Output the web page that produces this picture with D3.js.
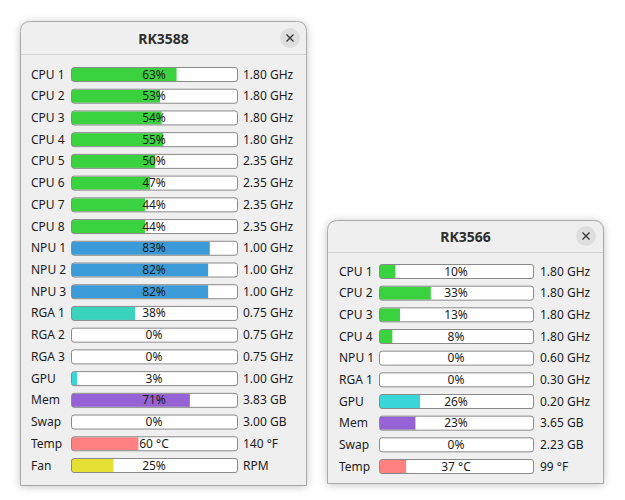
<!DOCTYPE html>
<html>
<head>
<meta charset="utf-8">
<script src="https://cdn.jsdelivr.net/npm/d3@7"></script>
<style>
  body { margin: 0; background: #fff; }
  svg { display: block; font-family: "Noto Sans", "Open Sans", sans-serif; }
</style>
</head>
<body>
<script>
// RK3588 panel
var rk3588Labels = ['CPU 1','CPU 2','CPU 3','CPU 4','CPU 5','CPU 6','CPU 7','CPU 8',
                    'NPU 1','NPU 2','NPU 3','RGA 1','RGA 2','RGA 3','GPU','Mem','Swap','Temp','Fan'];
var rk3588Values = [63, 53, 54, 55, 50, 47, 44, 44, 83, 82, 82, 38, 0, 0, 3, 71, 0, 60, 25];
var rk3588Info   = ['1.80 GHz','1.80 GHz','1.80 GHz','1.80 GHz','2.35 GHz','2.35 GHz','2.35 GHz','2.35 GHz',
                    '1.00 GHz','1.00 GHz','1.00 GHz','0.75 GHz','0.75 GHz','0.75 GHz','1.00 GHz',
                    '3.83 GB','3.00 GB','140 °F','RPM'];

// RK3566 panel
var rk3566Labels = ['CPU 1','CPU 2','CPU 3','CPU 4','NPU 1','RGA 1','GPU','Mem','Swap','Temp'];
var rk3566Values = [10, 33, 13, 8, 0, 0, 26, 23, 0, 37];
var rk3566Info   = ['1.80 GHz','1.80 GHz','1.80 GHz','1.80 GHz','0.60 GHz','0.30 GHz','0.20 GHz',
                    '3.65 GB','2.23 GB','99 °F'];

var kinds = ['CPU','NPU','RGA','GPU','Mem','Swap','Temp','Fan'];
var color = d3.scaleOrdinal()
  .domain(kinds)
  .range(['#3bd23f','#3a9bd8','#3ad3bd','#38d6d8','#9563d6','#cccccc','#ff8080','#e4e034']);

var width = 625, height = 500;
var svg = d3.select('body').append('svg').attr('width', width).attr('height', height);

var defs = svg.append('defs');
var shadow = defs.append('filter').attr('id', 'shadow')
  .attr('x', '-10%').attr('y', '-10%').attr('width', '120%').attr('height', '120%');
shadow.append('feDropShadow').attr('dx', 0).attr('dy', 1).attr('stdDeviation', 4)
  .attr('flood-color', '#000').attr('flood-opacity', 0.25);

var pct = d3.scaleLinear().domain([0, 100]).clamp(true);
var tempScale = d3.scaleLinear().domain([20, 120]).clamp(true);

function kindOf(label) { return label.split(' ')[0]; }

function panel(opts) {
  var g = svg.append('g');
  var x0 = opts.left, x1 = opts.right, y0 = opts.top, y1 = opts.bottom, r = 10;

  var outline = 'M' + x0 + ',' + y1 + 'V' + (y0 + r) +
    'Q' + x0 + ',' + y0 + ' ' + (x0 + r) + ',' + y0 +
    'H' + (x1 - r) + 'Q' + x1 + ',' + y0 + ' ' + x1 + ',' + (y0 + r) +
    'V' + y1 + 'Z';

  g.append('path').attr('d', outline).attr('fill', '#efefef')
    .attr('filter', 'url(#shadow)');
  g.append('path').attr('d', outline).attr('fill', '#efefef')
    .attr('stroke', '#a9a9a9').attr('stroke-width', 1);

  g.append('line')
    .attr('x1', x0 + 0.5).attr('x2', x1 - 0.5)
    .attr('y1', opts.sep + 0.5).attr('y2', opts.sep + 0.5)
    .attr('stroke', '#d2d2d2');

  g.append('text')
    .attr('x', (x0 + x1) / 2).attr('y', opts.titleY)
    .attr('text-anchor', 'middle').attr('dominant-baseline', 'central')
    .attr('font-size', 14).attr('font-weight', 'bold').attr('fill', '#2e2e2e')
    .text(opts.title);

  var close = g.append('g').attr('transform', 'translate(' + opts.closeX + ',' + opts.titleY + ')');
  close.append('circle').attr('r', 10).attr('fill', '#dedede');
  close.append('path').attr('d', 'M-3.5,-3.5L3.5,3.5M3.5,-3.5L-3.5,3.5')
    .attr('stroke', '#333').attr('stroke-width', 1.3);

  var y = d3.scalePoint().domain(opts.labels).range([opts.firstRow, opts.lastRow]);
  var x = pct.copy().range([0, opts.barRight - opts.barLeft]);
  var xt = tempScale.copy().range([0, opts.barRight - opts.barLeft]);
  var barH = 14;

  var rows = g.selectAll('g.row')
    .data(opts.labels.map(function(l, i) {
      return { label: l, value: opts.values[i], info: opts.info[i] };
    }))
    .join('g').attr('class', 'row')
    .attr('transform', function(d) { return 'translate(0,' + y(d.label) + ')'; });

  rows.append('text')
    .attr('x', opts.labelX).attr('dominant-baseline', 'central')
    .attr('font-size', 12).attr('fill', '#1c1c1c')
    .text(function(d) { return d.label; });

  rows.append('rect')
    .attr('x', opts.barLeft + 0.5).attr('y', -barH / 2 + 0.5)
    .attr('width', opts.barRight - opts.barLeft).attr('height', barH)
    .attr('rx', 2.5).attr('fill', '#fff');

  rows.append('rect')
    .attr('x', opts.barLeft + 1).attr('y', -barH / 2 + 1)
    .attr('width', function(d) {
      var w = kindOf(d.label) === 'Temp' ? xt(d.value) : x(d.value);
      return Math.max(0, Math.min(w, opts.barRight - opts.barLeft - 1));
    })
    .attr('height', barH - 1)
    .attr('fill', function(d) { return color(kindOf(d.label)); });

  rows.append('rect')
    .attr('x', opts.barLeft + 0.5).attr('y', -barH / 2 + 0.5)
    .attr('width', opts.barRight - opts.barLeft).attr('height', barH)
    .attr('rx', 2.5).attr('fill', 'none').attr('stroke', '#8a8a8a');

  rows.append('text')
    .attr('x', (opts.barLeft + opts.barRight) / 2).attr('dominant-baseline', 'central')
    .attr('text-anchor', 'middle').attr('font-size', 12).attr('fill', '#1c1c1c')
    .text(function(d) { return kindOf(d.label) === 'Temp' ? d.value + ' °C' : d.value + '%'; });

  rows.append('text')
    .attr('x', opts.infoX).attr('dominant-baseline', 'central')
    .attr('font-size', 12).attr('fill', '#1c1c1c')
    .text(function(d) { return d.info; });
}

panel({
  title: 'RK3588', labels: rk3588Labels, values: rk3588Values, info: rk3588Info,
  left: 20.5, right: 306.5, top: 21.5, bottom: 485.5, sep: 54, titleY: 38, closeX: 290,
  firstRow: 74, lastRow: 465, labelX: 31, barLeft: 71, barRight: 237, infoX: 243
});

panel({
  title: 'RK3566', labels: rk3566Labels, values: rk3566Values, info: rk3566Info,
  left: 327.5, right: 603.5, top: 220.5, bottom: 483.5, sep: 252, titleY: 236, closeX: 586,
  firstRow: 271, lastRow: 466, labelX: 339, barLeft: 379, barRight: 533, infoX: 540
});
</script>
</body>
</html>
